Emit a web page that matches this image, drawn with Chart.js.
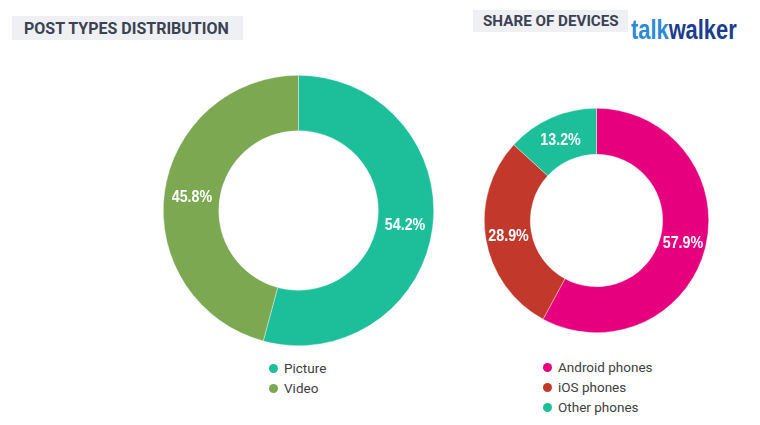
<!DOCTYPE html>
<html>
<head>
<meta charset="utf-8">
<script src="https://cdn.jsdelivr.net/npm/chart.js@4"></script>
<style>
  html,body{margin:0;padding:0;background:#fff;}
  body{width:760px;height:425px;position:relative;overflow:hidden;font-family:Roboto,"Noto Sans",sans-serif;}
  .title{position:absolute;background:#eef0f3;color:#3b4252;font-weight:700;white-space:nowrap;box-sizing:border-box;}
  #t1{left:12px;top:16px;width:231px;height:24px;font-size:16px;line-height:25px;padding-left:12px;letter-spacing:0px;}
  #t2{left:473px;top:10px;width:155px;height:22px;font-size:15.2px;line-height:23px;padding-left:10px;letter-spacing:0px;}
  #logo{position:absolute;left:631px;top:13px;font-family:"Liberation Sans",Arial,sans-serif;font-weight:700;font-size:28px;line-height:34px;transform:scaleX(0.78);transform-origin:0 0;white-space:nowrap;}
  #logo .a{color:#2b8ad6;} #logo .b{color:#1b3d8f;}
  canvas{position:absolute;}
  .legend{position:absolute;font-size:13.5px;color:#404040;}
  .legend .row{position:relative;height:20px;line-height:20px;padding-left:15px;white-space:nowrap;}
  .legend .dot{position:absolute;left:0;top:5.5px;width:9px;height:9px;border-radius:50%;}
</style>
</head>
<body>
<div class="title" id="t1">POST TYPES DISTRIBUTION</div>
<div class="title" id="t2">SHARE OF DEVICES</div>
<div id="logo"><span class="a">talk</span><span class="b">walker</span></div>
<canvas id="c1" width="271" height="271" style="left:163px;top:75px;"></canvas>
<canvas id="c2" width="225" height="225" style="left:484px;top:108px;"></canvas>
<div class="legend" id="l1" style="left:269px;top:358px;"></div>
<div class="legend" id="l2" style="left:543px;top:357px;"></div>
<script>
const postCategories = ["Picture", "Video"];
const postValues = [54.2, 45.8];
const postColors = ["#1dbf9b", "#7ba850"];

const deviceCategories = ["Android phones", "iOS phones", "Other phones"];
const deviceValues = [57.9, 28.9, 13.2];
const deviceColors = ["#e6007e", "#c2392c", "#1dbf9b"];

const labelPlugin = {
  id: 'arcLabels',
  afterDatasetsDraw(chart) {
    const ctx = chart.ctx;
    const meta = chart.getDatasetMeta(0);
    const data = chart.data.datasets[0].data;
    meta.data.forEach((arc, i) => {
      const p = arc.tooltipPosition();
      ctx.save();
      ctx.translate(p.x, p.y);
      ctx.scale(0.84, 1);
      ctx.fillStyle = '#ffffff';
      ctx.font = 'bold 17px "Liberation Sans", Arial, sans-serif';
      ctx.textAlign = 'center';
      ctx.textBaseline = 'middle';
      ctx.fillText(data[i].toFixed(1) + '%', 0, 1);
      ctx.restore();
    });
  }
};

function makeDonut(id, labels, values, colors) {
  return new Chart(document.getElementById(id), {
    type: 'doughnut',
    data: {
      labels: labels,
      datasets: [{
        data: values,
        backgroundColor: colors,
        borderColor: 'rgba(255,255,255,0.6)',
        borderWidth: 0.6
      }]
    },
    options: {
      responsive: false,
      animation: false,
      cutout: '59%',
      layout: { padding: 0 },
      plugins: { legend: { display: false }, tooltip: { enabled: false } }
    },
    plugins: [labelPlugin]
  });
}

function makeLegend(id, labels, colors) {
  const el = document.getElementById(id);
  labels.forEach((lab, i) => {
    const row = document.createElement('div');
    row.className = 'row';
    const dot = document.createElement('span');
    dot.className = 'dot';
    dot.style.background = colors[i];
    row.appendChild(dot);
    row.appendChild(document.createTextNode(lab));
    el.appendChild(row);
  });
}

makeDonut('c1', postCategories, postValues, postColors);
makeDonut('c2', deviceCategories, deviceValues, deviceColors);
makeLegend('l1', postCategories, postColors);
makeLegend('l2', deviceCategories, deviceColors);
</script>
</body>
</html>
